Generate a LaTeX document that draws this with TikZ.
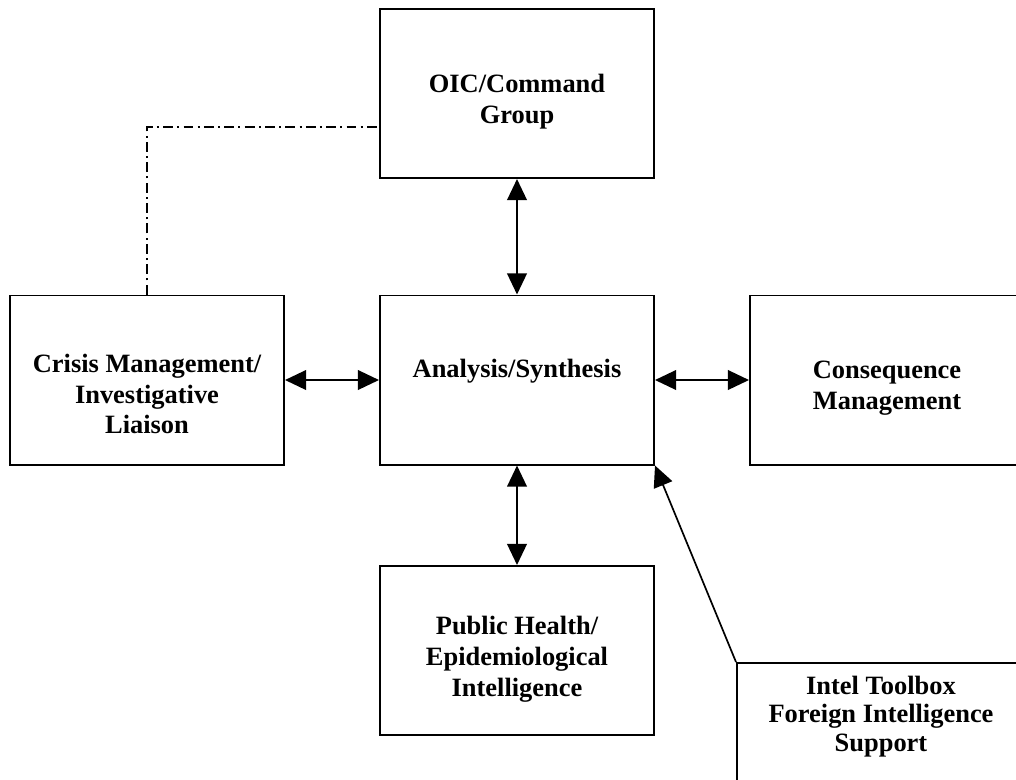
\documentclass[tikz,border=0pt]{standalone}
\usepackage{fontspec}
\setmainfont{Liberation Serif}
\usepackage{tikz}
\usetikzlibrary{positioning,arrows.meta}

\tikzset{
  unit/.style={draw, line width=1.4pt, minimum width=6.85cm, minimum height=4.225cm, inner sep=0pt},
  unittext/.style={align=center, font=\fontsize{18.8}{22}\selectfont\bfseries},
  link/.style={line width=1.2pt, {Triangle[length=15pt,width=14pt]}-{Triangle[length=15pt,width=14pt]}},
  feed/.style={line width=1.2pt, -{Triangle[length=15pt,width=14pt]}},
}

\begin{document}
\begin{tikzpicture}[x=0.025cm, y=-0.025cm]
\useasboundingbox (0,0) rectangle (1016,779);

\node[unit] (oic) at (517,93.5) {};
\node[unit] (analysis) at (517,380) {};
\node[unit] (crisis) at (147,380) {};
\node[unit] (conseq) at (887,380) {};
\node[unit] (health) at (517,650.5) {};
\node[unit, minimum width=7.2cm] (intel) at (881,747.5) {};

\node[unittext] (oicText) at (517,101.5) {OIC/Command\\Group};
\node[unittext] (analysisText) at (517,371) {Analysis/Synthesis};
\node[unittext] (crisisText) at (147,394) {Crisis Management/\\Investigative\\Liaison};
\node[unittext] (conseqText) at (887,388) {Consequence\\Management};
\node[unittext] (healthText) at (517,659) {Public Health/\\Epidemiological\\Intelligence};
\node[unittext, font=\fontsize{18.8}{20.3}\selectfont\bfseries] (intelText) at (881,716.5) {Intel Toolbox\\Foreign Intelligence\\Support};

\draw[link] (oic) -- (analysis);
\draw[link] (crisis) -- (analysis);
\draw[link] (analysis) -- (conseq);
\draw[link] (analysis) -- (health);
\draw[feed] (intel.north west) -- (analysis.south east);
\draw[line width=1.2pt, dash pattern=on 7pt off 3pt on 1.5pt off 3pt] (crisis.north) |- ([yshift=-0.84cm]oic.west);
\end{tikzpicture}
\end{document}
